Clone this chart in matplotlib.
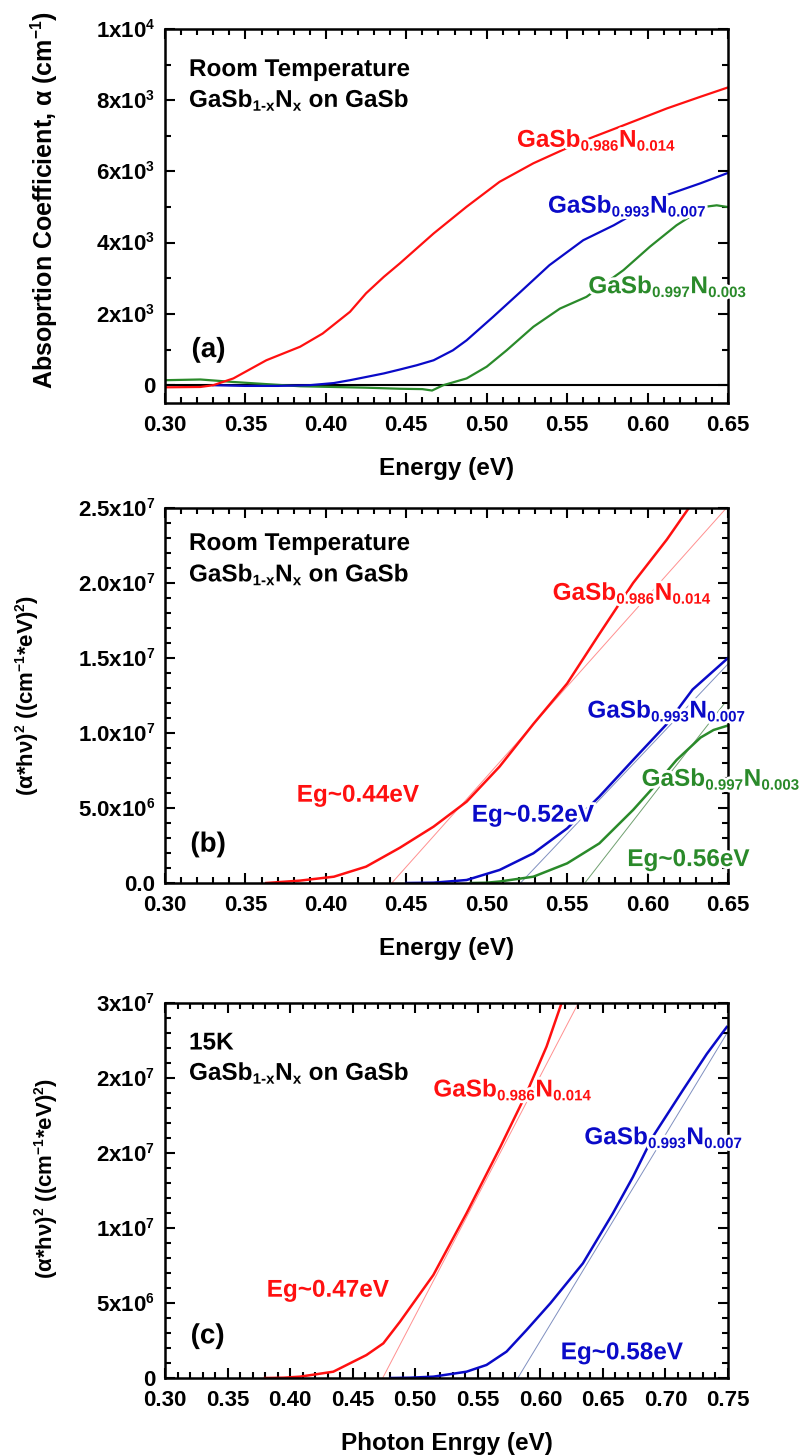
import matplotlib
matplotlib.use('Agg')
import matplotlib.pyplot as plt
import matplotlib.patheffects as pe
from matplotlib.ticker import MultipleLocator, FormatStrFormatter
try:
    import matplotlib._mathtext as _mt
    _mt.SHRINK_FACTOR = 0.62
except Exception:
    pass

plt.rcParams['font.family'] = ['Liberation Sans', 'DejaVu Sans']
plt.rcParams['font.weight'] = 'bold'
plt.rcParams['mathtext.fontset'] = 'custom'
plt.rcParams['mathtext.rm'] = 'Liberation Sans:bold'
plt.rcParams['mathtext.it'] = 'Liberation Sans:bold'
plt.rcParams['mathtext.bf'] = 'Liberation Sans:bold'
plt.rcParams['mathtext.sf'] = 'Liberation Sans:bold'
plt.rcParams['mathtext.default'] = 'rm'

# ---------------- data ----------------
# Panel (a): absorption coefficient (cm^-1) vs energy (eV), room temperature
a_red_E = [0.300, 0.322, 0.330, 0.3425, 0.363, 0.384, 0.398, 0.415, 0.425, 0.436, 0.446,
           0.467, 0.4875, 0.508, 0.529, 0.548, 0.564, 0.583, 0.612, 0.633, 0.650]
a_red_A = [-60, -50, 0, 190, 700, 1080, 1450, 2060, 2580, 3040, 3420,
           4260, 5010, 5710, 6230, 6620, 6930, 7260, 7770, 8100, 8360]
a_blue_E = [0.330, 0.350, 0.370, 0.390, 0.405, 0.415, 0.425, 0.436, 0.446, 0.4565, 0.467,
            0.479, 0.4875, 0.504, 0.521, 0.539, 0.560, 0.579, 0.612, 0.633, 0.650]
a_blue_A = [0, -20, -20, 0, 60, 140, 230, 330, 440, 560, 700,
            980, 1260, 1920, 2620, 3370, 4070, 4490, 5340, 5670, 5960]
a_green_E = [0.300, 0.322, 0.3425, 0.363, 0.384, 0.425, 0.446, 0.460, 0.466, 0.473, 0.4875,
             0.500, 0.5124, 0.529, 0.5455, 0.562, 0.585, 0.6015, 0.618, 0.636, 0.643, 0.650]
a_green_A = [140, 160, 90, 30, -30, -70, -100, -110, -150, 0, 190,
             520, 980, 1640, 2150, 2480, 3230, 3890, 4490, 5010, 5050, 5000]

# Panel (b): (alpha*hv)^2 in units of 1e6, room temperature
b_red_E = [0.363, 0.384, 0.405, 0.425, 0.446, 0.467, 0.4875, 0.508, 0.529, 0.550, 0.570,
           0.591, 0.612, 0.625, 0.630]
b_red_V = [0.0, 0.16, 0.42, 1.09, 2.35, 3.76, 5.42, 7.76, 10.6, 13.3, 16.6,
           20.0, 22.9, 24.9, 25.6]
b_blue_E = [0.450, 0.467, 0.4875, 0.508, 0.529, 0.550, 0.570, 0.591, 0.612, 0.628, 0.650]
b_blue_V = [0.0, 0.02, 0.2, 0.87, 1.98, 3.64, 5.76, 8.2, 10.6, 12.9, 15.0]
b_green_E = [0.490, 0.500, 0.508, 0.529, 0.550, 0.570, 0.591, 0.604, 0.618, 0.633, 0.641, 0.650]
b_green_V = [0.0, 0.02, 0.1, 0.42, 1.31, 2.64, 4.87, 6.42, 8.2, 9.7, 10.2, 10.5]
b_red_fit_E = [0.441, 0.649]
b_red_fit_V = [0.0, 25.0]
b_blue_fit_E = [0.521, 0.650]
b_blue_fit_V = [0.0, 14.6]
b_green_fit_E = [0.561, 0.648]
b_green_fit_V = [0.0, 12.0]

# Panel (c): (alpha*hv)^2 in units of 1e6, 15 K
c_red_E = [0.380, 0.395, 0.408, 0.4345, 0.461, 0.4745, 0.4878, 0.5145, 0.541, 0.568, 0.589,
           0.605, 0.617, 0.620]
c_red_V = [0.0, 0.02, 0.09, 0.42, 1.53, 2.31, 3.75, 6.87, 10.98, 15.4, 19.0,
           22.1, 25.0, 25.6]
c_blue_E = [0.480, 0.496, 0.5145, 0.541, 0.557, 0.573, 0.589, 0.608, 0.634, 0.658, 0.674,
            0.690, 0.714, 0.733, 0.749]
c_blue_V = [0.0, 0.02, 0.09, 0.42, 0.87, 1.76, 3.2, 4.98, 7.64, 10.98, 13.4,
            16.1, 19.2, 21.6, 23.4]
c_red_fit_E = [0.474, 0.6304]
c_red_fit_V = [0.0, 25.0]
c_blue_fit_E = [0.582, 0.750]
c_blue_fit_V = [0.0, 23.1]

a_yticks = [0, 2000, 4000, 6000, 8000, 10000]
a_ylabels = ['0', r'2x10$^{3}$', r'4x10$^{3}$', r'6x10$^{3}$', r'8x10$^{3}$', r'1x10$^{4}$']
b_yticks = [0, 5, 10, 15, 20, 25]
b_ylabels = ['0.0', r'5.0x10$^{6}$', r'1.0x10$^{7}$', r'1.5x10$^{7}$', r'2.0x10$^{7}$', r'2.5x10$^{7}$']
c_yticks = [0, 5, 10, 15, 20, 25]
c_ylabels = ['0', r'5x10$^{6}$', r'1x10$^{7}$', r'2x10$^{7}$', r'2x10$^{7}$', r'3x10$^{7}$']

RED = '#ff1010'
BLUE = '#0a0ac8'
GREEN = '#2a8a2a'
RED_FIT = '#ff9090'
BLUE_FIT = '#8090c0'
GREEN_FIT = '#70a070'

lbl_red = r'GaSb$_{0.986}$N$_{0.014}$'
lbl_blue = r'GaSb$_{0.993}$N$_{0.007}$'
lbl_green = r'GaSb$_{0.997}$N$_{0.003}$'
lbl_alloy = r'GaSb$_{1\text{-}x}$N$_{x}$ on GaSb'

W, H = 799, 1456
fig = plt.figure(figsize=(W / 100, H / 100), dpi=100)

def make_ax(top_px, bot_px):
    left, right = 165, 728
    return fig.add_axes([left / W, 1 - bot_px / H, (right - left) / W, (bot_px - top_px) / H])

halo = [pe.withStroke(linewidth=4, foreground='white')]

def style(ax, xlim, ylim, yticks, ylabels, yminor):
    ax.set_xlim(*xlim)
    ax.set_ylim(*ylim)
    ax.xaxis.set_major_locator(MultipleLocator(0.05))
    ax.xaxis.set_minor_locator(MultipleLocator(0.01))
    ax.xaxis.set_major_formatter(FormatStrFormatter('%.2f'))
    ax.set_yticks(yticks)
    ax.set_yticklabels(ylabels)
    ax.yaxis.set_minor_locator(MultipleLocator(yminor))
    ax.tick_params(which='both', direction='in', top=True, right=True, width=1.5,
                   labelsize=16)
    ax.tick_params(which='major', length=7)
    ax.tick_params(which='minor', length=4)
    ax.tick_params(axis='x', pad=8.5)
    ax.tick_params(axis='y', pad=7)
    for s in ax.spines.values():
        s.set_linewidth(1.8)

def label(ax, x, y, s, color, size=17.5):
    ax.text(x, y, s, color=color, fontsize=size, fontweight='bold', va='baseline',
            ha='left', path_effects=halo, zorder=5)

# ---------------- panel (a) ----------------
ax1 = make_ax(29, 403)
style(ax1, (0.30, 0.65), (-500, 10000), a_yticks, a_ylabels, 1000)
ax1.axhline(0, color='black', lw=1.5, zorder=1)
ax1.plot(a_green_E, a_green_A, color=GREEN, lw=1.6, zorder=2)
ax1.plot(a_blue_E, a_blue_A, color=BLUE, lw=1.6, zorder=2)
ax1.plot(a_red_E, a_red_A, color=RED, lw=1.6, zorder=2)
label(ax1, 0.3149, 8680, 'Room Temperature', 'black')
label(ax1, 0.3149, 7810, lbl_alloy, 'black')
label(ax1, 0.3165, 790, '(a)', 'black', 20)
label(ax1, 0.5188, 6690, lbl_red, RED)
label(ax1, 0.5381, 4840, lbl_blue, BLUE)
label(ax1, 0.5632, 2580, lbl_green, GREEN)

# ---------------- panel (b) ----------------
ax2 = make_ax(508, 883)
style(ax2, (0.30, 0.65), (0, 25), b_yticks, b_ylabels, 1)
ax2.plot(b_red_fit_E, b_red_fit_V, color=RED_FIT, lw=0.7, zorder=1)
ax2.plot(b_blue_fit_E, b_blue_fit_V, color=BLUE_FIT, lw=0.7, zorder=1)
ax2.plot(b_green_fit_E, b_green_fit_V, color=GREEN_FIT, lw=0.7, zorder=1)
ax2.plot(b_green_E, b_green_V, color=GREEN, lw=1.8, zorder=2)
ax2.plot(b_blue_E, b_blue_V, color=BLUE, lw=1.8, zorder=2)
ax2.plot(b_red_E, b_red_V, color=RED, lw=1.8, zorder=2)
label(ax2, 0.3149, 22.2, 'Room Temperature', 'black')
label(ax2, 0.3149, 20.1, lbl_alloy, 'black')
label(ax2, 0.3158, 2.09, '(b)', 'black', 20)
label(ax2, 0.3819, 5.42, 'Eg~0.44eV', RED)
label(ax2, 0.541, 18.87, lbl_red, RED)
label(ax2, 0.5626, 11.02, lbl_blue, BLUE)
label(ax2, 0.5963, 6.47, lbl_green, GREEN)
label(ax2, 0.4907, 4.09, 'Eg~0.52eV', BLUE)
label(ax2, 0.5874, 1.13, 'Eg~0.56eV', GREEN)

# ---------------- panel (c) ----------------
ax3 = make_ax(1003, 1378)
style(ax3, (0.30, 0.75), (0, 25), c_yticks, c_ylabels, 1)
ax3.plot(c_red_fit_E, c_red_fit_V, color=RED_FIT, lw=0.7, zorder=1)
ax3.plot(c_blue_fit_E, c_blue_fit_V, color=BLUE_FIT, lw=0.7, zorder=1)
ax3.plot(c_blue_E, c_blue_V, color=BLUE, lw=1.8, zorder=2)
ax3.plot(c_red_E, c_red_V, color=RED, lw=1.8, zorder=2)
label(ax3, 0.3192, 21.9, '15K', 'black')
label(ax3, 0.3192, 19.87, lbl_alloy, 'black')
label(ax3, 0.3205, 2.31, '(c)', 'black', 20)
label(ax3, 0.3813, 5.42, 'Eg~0.47eV', RED)
label(ax3, 0.5145, 18.76, lbl_red, RED)
label(ax3, 0.6352, 15.58, lbl_blue, BLUE)
label(ax3, 0.6163, 1.25, 'Eg~0.58eV', BLUE)

# ---------------- axis titles ----------------
fig.text(45 / W, 1 - 200 / H, r'Absoprtion Coefficient, α (cm$^{-1}$)', rotation=90,
         ha='center', va='center', fontsize=18, fontweight='bold')
fig.text(28 / W, 1 - 695 / H, r'(α*hν)$^{2}$ ((cm$^{-1}$*eV)$^{2}$)', rotation=90,
         ha='center', va='center', fontsize=16, fontweight='bold')
fig.text(47 / W, 1 - 1178 / H, r'(α*hν)$^{2}$ ((cm$^{-1}$*eV)$^{2}$)', rotation=90,
         ha='center', va='center', fontsize=16, fontweight='bold')
fig.text(446.5 / W, 1 - 475 / H, 'Energy (eV)', ha='center', va='baseline',
         fontsize=17.5, fontweight='bold')
fig.text(446.5 / W, 1 - 955 / H, 'Energy (eV)', ha='center', va='baseline',
         fontsize=17.5, fontweight='bold')
fig.text(446.5 / W, 1 - 1450 / H, 'Photon Enrgy (eV)', ha='center', va='baseline',
         fontsize=17.5, fontweight='bold')

fig.savefig('out.png', dpi=100, facecolor='white')
